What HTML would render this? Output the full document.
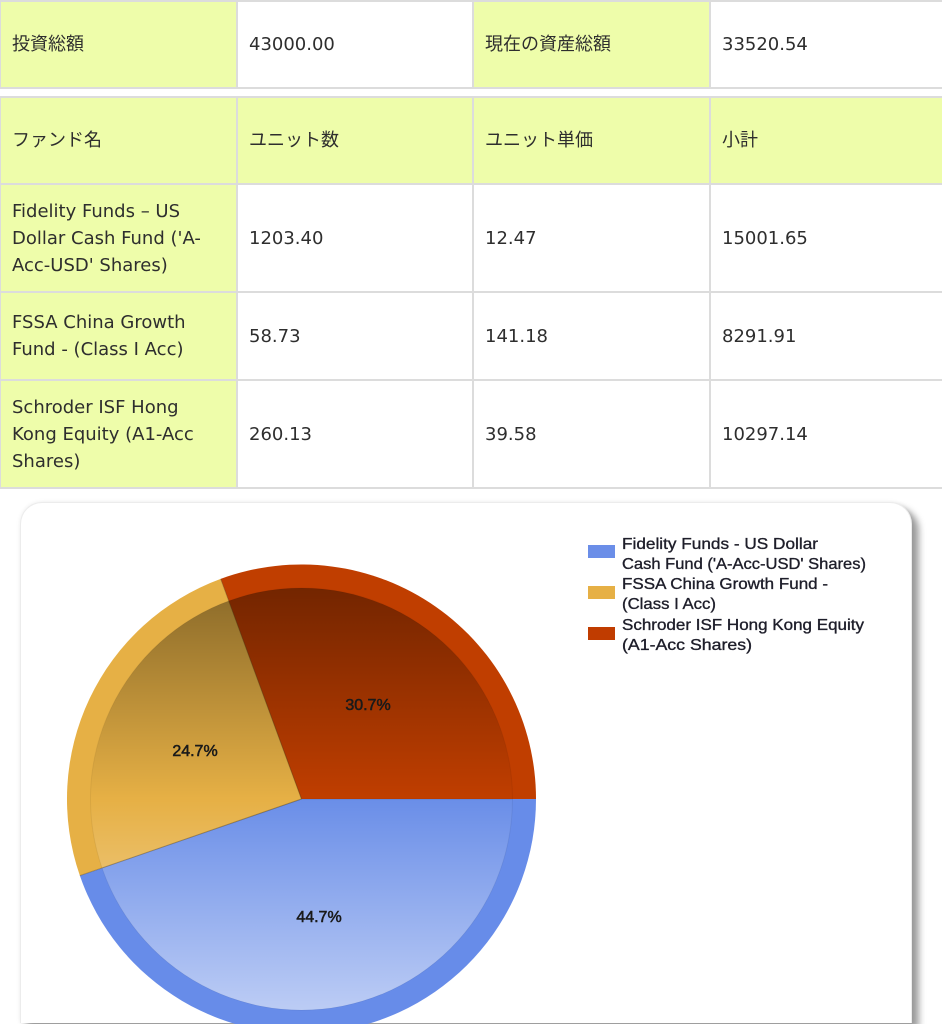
<!DOCTYPE html>
<html>
<head>
<meta charset="utf-8">
<style>
  html, body { margin:0; padding:0; background:#fff; width:942px; height:1024px; overflow:hidden; }
  #wrap { position:relative; width:942px; height:1024px; overflow:hidden;
          font-family:"DejaVu Sans","Noto Sans CJK JP",sans-serif; font-size:18px; color:#2e2e2e; }
  .c { position:absolute; display:flex; align-items:center; box-sizing:border-box;
       padding-left:12px; line-height:27px; white-space:nowrap; }
  .y { background:#eefdaa; }
  .w { background:#fff; }
  .hl { position:absolute; left:0; width:942px; height:2px; background:#dcdcdc; }
  .vl { position:absolute; width:2px; background:#dcdcdc; }
  .card { position:absolute; left:20px; top:502px; width:892px; height:521px; box-sizing:border-box;
          background:#fff; border:1px solid #ececec; border-bottom:none; border-radius:22px 22px 0 0;
          box-shadow: 0 0 4px rgba(0,0,0,0.08), 7px 6px 7px rgba(0,0,0,0.38); }
</style>
</head>
<body>
<div id="wrap">

<!-- Table 1 -->
<div class="c y" style="left:0;top:0;width:237px;height:88px;">投資総額</div>
<div class="c w" style="left:237px;top:0;width:236px;height:88px;">43000.00</div>
<div class="c y" style="left:473px;top:0;width:237px;height:88px;">現在の資産総額</div>
<div class="c w" style="left:710px;top:0;width:232px;height:88px;">33520.54</div>

<!-- Table 2 header -->
<div class="c y" style="left:0;top:97px;width:237px;height:87px;">ファンド名</div>
<div class="c y" style="left:237px;top:97px;width:236px;height:87px;">ユニット数</div>
<div class="c y" style="left:473px;top:97px;width:237px;height:87px;">ユニット単価</div>
<div class="c y" style="left:710px;top:97px;width:232px;height:87px;">小計</div>

<!-- Row 1 -->
<div class="c y" style="left:0;top:184px;width:237px;height:108px;">Fidelity Funds – US<br>Dollar Cash Fund ('A-<br>Acc-USD' Shares)</div>
<div class="c w" style="left:237px;top:184px;width:236px;height:108px;">1203.40</div>
<div class="c w" style="left:473px;top:184px;width:237px;height:108px;">12.47</div>
<div class="c w" style="left:710px;top:184px;width:232px;height:108px;">15001.65</div>

<!-- Row 2 -->
<div class="c y" style="left:0;top:292px;width:237px;height:88px;">FSSA China Growth<br>Fund - (Class I Acc)</div>
<div class="c w" style="left:237px;top:292px;width:236px;height:88px;">58.73</div>
<div class="c w" style="left:473px;top:292px;width:237px;height:88px;">141.18</div>
<div class="c w" style="left:710px;top:292px;width:232px;height:88px;">8291.91</div>

<!-- Row 3 -->
<div class="c y" style="left:0;top:380px;width:237px;height:108px;">Schroder ISF Hong<br>Kong Equity (A1-Acc<br>Shares)</div>
<div class="c w" style="left:237px;top:380px;width:236px;height:108px;">260.13</div>
<div class="c w" style="left:473px;top:380px;width:237px;height:108px;">39.58</div>
<div class="c w" style="left:710px;top:380px;width:232px;height:108px;">10297.14</div>

<!-- grid lines -->
<div class="hl" style="top:0;"></div>
<div class="hl" style="top:87px;"></div>
<div class="hl" style="top:96px;"></div>
<div class="hl" style="top:183px;"></div>
<div class="hl" style="top:291px;"></div>
<div class="hl" style="top:379px;"></div>
<div class="hl" style="top:487px;"></div>
<div class="vl" style="left:0;top:0;height:89px;width:1px;"></div>
<div class="vl" style="left:236px;top:0;height:89px;"></div>
<div class="vl" style="left:472px;top:0;height:89px;"></div>
<div class="vl" style="left:709px;top:0;height:89px;"></div>
<div class="vl" style="left:0;top:96px;height:393px;width:1px;"></div>
<div class="vl" style="left:236px;top:96px;height:393px;"></div>
<div class="vl" style="left:472px;top:96px;height:393px;"></div>
<div class="vl" style="left:709px;top:96px;height:393px;"></div>

<!-- Chart card -->
<div class="card"></div>

<svg style="position:absolute;left:0;top:0;display:block;" width="942" height="1024" viewBox="0 0 942 1024">
  <defs>
    <linearGradient id="ov" x1="0" y1="0" x2="0" y2="1">
      <stop offset="0" stop-color="#000" stop-opacity="0.4"/>
      <stop offset="0.5" stop-color="#000" stop-opacity="0"/>
      <stop offset="0.5" stop-color="#fff" stop-opacity="0"/>
      <stop offset="1" stop-color="#fff" stop-opacity="0.55"/>
    </linearGradient>
  </defs>
  <!-- outer ring -->
  <path d="M301.5,799 L536,799 A234.5,234.5 0 0 1 79.87,875.66 Z" fill="#678ce9"/>
  <path d="M301.5,799 L79.87,875.66 A234.5,234.5 0 0 1 220.67,578.87 Z" fill="#e6b045"/>
  <path d="M301.5,799 L220.67,578.87 A234.5,234.5 0 0 1 536,799 Z" fill="#c03e00"/>
  <!-- inner -->
  <g stroke="rgba(0,0,0,0.06)" stroke-width="1">
    <path d="M301.5,799 L512.5,799 A211,211 0 0 1 102.08,867.98 Z" fill="#6a8ee8"/>
    <path d="M301.5,799 L102.08,867.98 A211,211 0 0 1 228.77,600.93 Z" fill="#e6b045"/>
    <path d="M301.5,799 L228.77,600.93 A211,211 0 0 1 512.5,799 Z" fill="#c03e00"/>
  </g>
  <circle cx="301.5" cy="799" r="211" fill="url(#ov)"/>
  <!-- slice boundary lines -->
  <g stroke="rgba(80,60,20,0.35)" stroke-width="1">
    <line x1="301.5" y1="799" x2="79.87" y2="875.66"/>
    <line x1="301.5" y1="799" x2="220.67" y2="578.87"/>
  </g>
  <!-- slice labels -->
  <g font-family="Liberation Sans, sans-serif" font-size="16" fill="#1a1a1a" text-anchor="middle" stroke="#1a1a1a" stroke-width="0.55">
    <text x="368" y="710">30.7%</text>
    <text x="195" y="756">24.7%</text>
    <text x="319" y="922">44.7%</text>
  </g>
  <!-- legend -->
  <rect x="588" y="545" width="27" height="13" fill="#6b8ee8"/>
  <rect x="588" y="586" width="27" height="13" fill="#e6b045"/>
  <rect x="588" y="627" width="27" height="13" fill="#c03c00"/>
  <g font-family="Liberation Sans, sans-serif" font-size="16" fill="#1e1e2a" stroke="#1e1e2a" stroke-width="0.35">
    <text x="622" y="549" textLength="196" lengthAdjust="spacingAndGlyphs">Fidelity  Funds - US Dollar</text>
    <text x="622" y="569" textLength="244" lengthAdjust="spacingAndGlyphs">Cash Fund ('A-Acc-USD' Shares)</text>
    <text x="622" y="589" textLength="206" lengthAdjust="spacingAndGlyphs">FSSA China Growth Fund -</text>
    <text x="622" y="609" textLength="94" lengthAdjust="spacingAndGlyphs">(Class I Acc)</text>
    <text x="622" y="630" textLength="242" lengthAdjust="spacingAndGlyphs">Schroder ISF Hong Kong Equity</text>
    <text x="622" y="650" textLength="130" lengthAdjust="spacingAndGlyphs">(A1-Acc  Shares)</text>
  </g>
</svg>

</div>
</body>
</html>
